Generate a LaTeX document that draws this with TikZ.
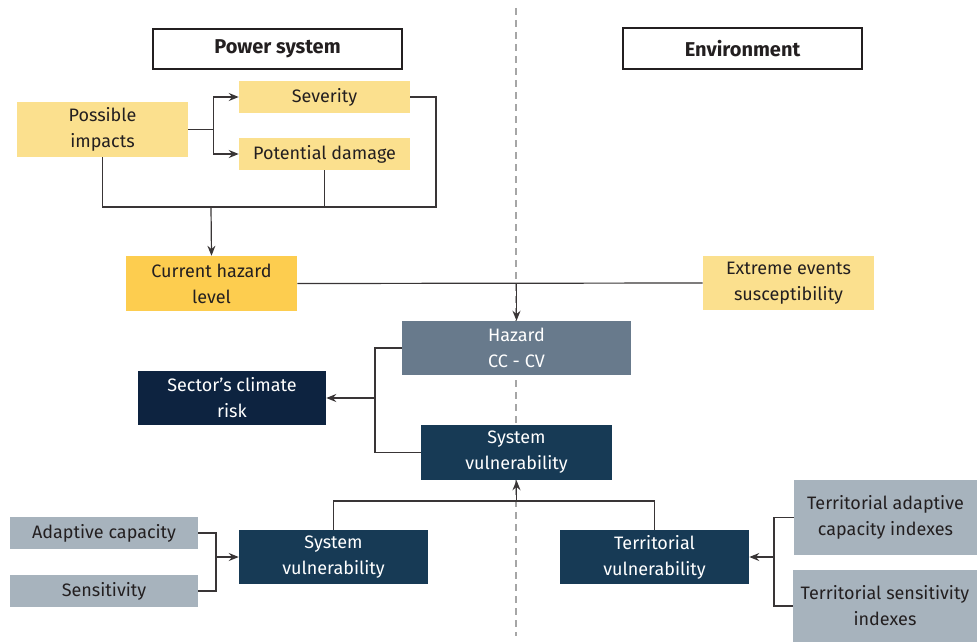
\documentclass[tikz,border=0pt]{standalone}
\usepackage{fontspec}
\setmainfont{Fira Sans}
\usetikzlibrary{calc}
\usetikzlibrary{arrows.meta}
\usepackage{xcolor}
\definecolor{yellowlt}{HTML}{FBE08E}
\definecolor{yellowdk}{HTML}{FDCD4F}
\definecolor{slate}{HTML}{687A8C}
\definecolor{navy}{HTML}{0D2340}
\definecolor{teal}{HTML}{173A55}
\definecolor{greybox}{HTML}{A7B3BD}
\definecolor{ink}{HTML}{231F20}
\tikzset{
 sz/.style 2 args={minimum width=#1*0.75pt, minimum height=#2*0.75pt},
 box/.style={inner sep=1pt, align=center, font=\fontsize{13.5}{19.5}\selectfont},
 head/.style={box, draw=ink, line width=0.9pt, fill=white, font=\fontsize{15}{19}\selectfont\bfseries, text=ink},
 ybox/.style={box, fill=yellowlt, text=ink},
 dbox/.style={box, fill=yellowdk, text=ink},
 gbox/.style={box, fill=greybox, text=ink},
 sbox/.style={box, fill=slate, text=white},
 nbox/.style={box, fill=navy, text=white},
 tbox/.style={box, fill=teal, text=white},
 link/.style={draw=ink!90, line width=0.9pt}
}

\begin{document}
\begin{tikzpicture}[x=0.75pt, y=-0.75pt, >={Stealth[length=7.5pt, width=6pt, inset=2.5pt]}]
\useasboundingbox (0,0) rectangle (977,642);
\draw[gray!70, line width=1.6pt, dash pattern=on 5pt off 4pt] (516,8)--(516,636);

\node[head, sz={249}{40}] (pow) at (277.5,49) {Power system};
\node[head, sz={239}{41}] (env) at (742.5,48.5) {Environment};

\node[ybox, sz={171}{55}] (imp) at (102.5,129.5) {Possible\\impacts};
\node[ybox, sz={171}{32}] (sev) at (324.5,97) {Severity};
\node[ybox, sz={171}{32}] (dam) at (324.5,154) {Potential damage};
\node[dbox, sz={171}{55}] (cur) at (211.5,283.5) {Current hazard\\level};
\node[ybox, sz={171}{54}] (ext) at (788.5,283) {Extreme events\\susceptibility};

\node[sbox, sz={229}{54}] (haz) at (516.5,348) {Hazard\\CC - CV};
\node[nbox, sz={188}{54}] (risk) at (232,398) {Sector's climate\\risk};
\node[tbox, sz={191}{55}] (sv) at (516.5,452.5) {System\\vulnerability};

\node[tbox, sz={189}{54}] (svb) at (333.5,557) {System\\vulnerability};
\node[tbox, sz={189}{54}] (tv) at (654.5,557) {Territorial\\vulnerability};
\node[gbox, sz={188}{32}] (adc) at (104,533) {Adaptive capacity};
\node[gbox, sz={188}{32}] (sen) at (104,591) {Sensitivity};
\node[gbox, sz={183}{75}] (tadc) at (885.5,517.5) {Territorial adaptive\\capacity indexes};
\node[gbox, sz={184}{72}] (tsen) at (885,606) {Territorial sensitivity\\indexes};

\coordinate (bj) at (211,207);
\coordinate (rj) at (375,398);
\coordinate (vj) at (516.5,501);
\coordinate (lj) at (216,557);
\coordinate (tj) at (774,557);

\draw[link, ->] (imp.east) -- ++(25,0) |- (sev.west);
\draw[link, ->] (imp.east) -- ++(25,0) |- (dam.west);
\draw[link] (imp.south) |- (436,207) |- (sev.east);
\draw[link] (dam.south) -- (dam.south |- bj);
\draw[link, ->] (bj) -- (cur.north);

\draw[link] (cur.east) -- (ext.west);
\draw[link, ->] (haz.north |- cur.east) -- (haz.north);

\draw[link] (haz.west) -| (rj) |- (sv.west);
\draw[link, ->] (rj) -- (risk.east);

\draw[link] (svb.north) |- (vj) -| (tv.north);
\draw[link, ->] (vj) -- (sv.south);

\draw[link] (adc.east) -| (lj) |- (sen.east);
\draw[link, ->] (lj) -- (svb.west);
\draw[link] (tadc.west) -| (tj) |- (tsen.west);
\draw[link, ->] (tj) -- (tv.east);
\end{tikzpicture}
\end{document}
